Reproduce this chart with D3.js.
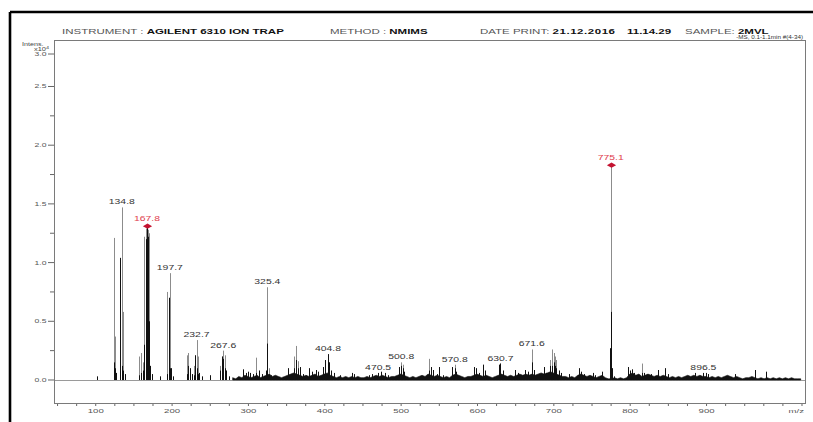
<!DOCTYPE html>
<html>
<head>
<meta charset="utf-8">
<script src="https://cdn.jsdelivr.net/npm/d3@7"></script>
<style>
  html, body { margin: 0; padding: 0; background: #fff; }
  svg { display: block; font-family: "Liberation Sans", Arial, sans-serif; }
  text { white-space: pre; }
</style>
</head>
<body>
<svg id="chart" width="813" height="422"></svg>
<script>
// ---- Mass spectrum, intensities in units of 10^4 counts ----
// Stick positions (m/z)
const peakMz = [
  102.5, 124.0, 125.8, 127.5, 132.2, 134.8, 137.0, 139.5,
  157.6, 159.4, 162.0, 164.5, 166.0, 167.8, 169.2, 170.5, 172.0, 175.0, 185.0,
  194.2, 196.0, 197.7, 199.0, 201.5,
  219.8, 221.8, 224.0, 227.0, 229.0, 231.0, 232.7, 234.2, 236.5, 240.0, 250.5,
  263.5, 265.5, 267.6, 269.5, 271.5, 275.0,
  293.5, 297.0, 300.0, 303.0, 306.0, 310.5, 314.0, 318.0, 323.5, 325.4, 327.0, 330.0,
  353.0, 360.5, 362.8, 365.5, 368.0, 372.0, 376.0, 380.5, 384.0, 389.0, 392.0,
  398.0, 401.5, 404.8, 406.5, 409.0, 413.0, 420.0, 436.5, 439.0,
  458.7, 462.0, 470.5, 474.0, 480.0, 484.0, 498.5, 500.8, 502.5, 505.0,
  537.5, 540.0, 543.0, 547.0, 550.5, 555.0, 567.5, 570.8, 573.0,
  596.0, 598.5, 602.0, 607.6, 611.0, 628.4, 630.7, 634.0,
  650.3, 654.0, 663.3, 667.0, 671.6, 674.5, 680.0, 687.2, 691.0,
  696.0, 698.2, 700.3, 702.0, 703.8, 707.0, 710.0, 720.0,
  733.0, 736.0, 740.0, 752.5, 755.0, 763.3, 773.8, 775.1, 776.4, 779.0,
  798.0, 801.0, 803.0, 806.0, 815.5, 819.0, 823.0, 828.0, 837.3, 846.0, 850.0,
  885.2, 896.5, 900.4, 903.0, 937.5, 963.6, 978.7
];
// Full stick height (light trace)
const peakHigh = [
  0.03, 1.21, 0.37, 0.06, 1.04, 1.47, 0.58, 0.05,
  0.20, 0.23, 0.15, 1.22, 1.29, 1.31, 1.28, 1.25, 0.12, 0.05, 0.03,
  0.75, 0.70, 0.91, 0.10, 0.03,
  0.21, 0.23, 0.10, 0.05, 0.12, 0.21, 0.34, 0.20, 0.06, 0.03, 0.04,
  0.12, 0.20, 0.25, 0.21, 0.08, 0.03,
  0.09, 0.06, 0.07, 0.06, 0.05, 0.19, 0.08, 0.05, 0.08, 0.79, 0.10, 0.04,
  0.10, 0.20, 0.29, 0.16, 0.11, 0.05, 0.04, 0.10, 0.07, 0.085, 0.07,
  0.11, 0.17, 0.22, 0.15, 0.08, 0.06, 0.04, 0.06, 0.05,
  0.04, 0.05, 0.06, 0.07, 0.06, 0.04, 0.11, 0.15, 0.13, 0.07,
  0.18, 0.11, 0.085, 0.05, 0.11, 0.04, 0.11, 0.13, 0.07,
  0.11, 0.10, 0.06, 0.13, 0.08, 0.13, 0.14, 0.08,
  0.085, 0.06, 0.085, 0.07, 0.26, 0.085, 0.05, 0.11, 0.06,
  0.17, 0.26, 0.23, 0.20, 0.17, 0.08, 0.06, 0.05,
  0.10, 0.07, 0.05, 0.06, 0.04, 0.07, 0.27, 1.83, 0.10, 0.03,
  0.11, 0.08, 0.09, 0.06, 0.14, 0.06, 0.05, 0.05, 0.085, 0.10, 0.05,
  0.06, 0.06, 0.06, 0.05, 0.05, 0.085, 0.07
];
// Dark core of each stick
const peakCore = [
  0.03, 0.15, 0.10, 0.06, 1.04, 0.12, 0.08, 0.05,
  0.04, 0.06, 0.08, 0.30, 1.20, 1.31, 1.22, 0.50, 0.12, 0.05, 0.03,
  0.05, 0.70, 0.10, 0.10, 0.03,
  0.05, 0.12, 0.10, 0.05, 0.04, 0.21, 0.10, 0.05, 0.06, 0.03, 0.04,
  0.08, 0.20, 0.18, 0.10, 0.08, 0.03,
  0.09, 0.06, 0.07, 0.06, 0.05, 0.06, 0.08, 0.05, 0.08, 0.31, 0.05, 0.04,
  0.10, 0.10, 0.17, 0.10, 0.11, 0.05, 0.04, 0.10, 0.07, 0.085, 0.07,
  0.11, 0.17, 0.22, 0.15, 0.08, 0.06, 0.04, 0.06, 0.05,
  0.04, 0.05, 0.06, 0.07, 0.06, 0.04, 0.11, 0.12, 0.10, 0.07,
  0.08, 0.11, 0.085, 0.05, 0.11, 0.04, 0.11, 0.10, 0.07,
  0.11, 0.10, 0.06, 0.13, 0.08, 0.13, 0.14, 0.08,
  0.085, 0.06, 0.085, 0.07, 0.15, 0.085, 0.05, 0.11, 0.06,
  0.12, 0.12, 0.15, 0.12, 0.10, 0.08, 0.06, 0.05,
  0.10, 0.07, 0.05, 0.06, 0.04, 0.07, 0.27, 0.58, 0.10, 0.03,
  0.11, 0.08, 0.09, 0.06, 0.06, 0.06, 0.05, 0.05, 0.085, 0.10, 0.05,
  0.06, 0.06, 0.06, 0.05, 0.05, 0.085, 0.07
];

// Chemical noise floor, sampled every 4 m/z from m/z 280
const noiseStart = 280;
const noiseStep = 4;
const noiseLevel = [
  0.02,0.01,0.03,0.02,0.04,0.03,0.02,0.03,0.04,0.02,
  0.03,0.04,0.05,0.03,0.04,0.03,0.02,0.03,0.04,0.05,
  0.06,0.05,0.04,0.03,0.04,0.03,0.04,0.05,0.03,0.04,
  0.05,0.06,0.04,0.03,0.02,0.03,0.02,0.03,0.02,0.03,
  0.02,0.03,0.02,0.02,0.03,0.02,0.03,0.04,0.03,0.04,
  0.03,0.02,0.03,0.03,0.04,0.05,0.04,0.03,0.02,0.03,
  0.02,0.03,0.04,0.03,0.05,0.04,0.03,0.04,0.03,0.02,
  0.03,0.02,0.04,0.05,0.04,0.03,0.02,0.03,0.03,0.04,
  0.05,0.04,0.03,0.04,0.03,0.02,0.03,0.04,0.05,0.04,
  0.03,0.04,0.03,0.04,0.05,0.04,0.05,0.04,0.05,0.04,
  0.05,0.06,0.05,0.06,0.07,0.06,0.05,0.04,0.03,0.03,
  0.02,0.03,0.02,0.04,0.05,0.04,0.03,0.04,0.03,0.02,
  0.03,0.04,0.02,0.01,0.01,0.02,0.01,0.02,0.01,0.02,
  0.05,0.06,0.04,0.05,0.03,0.04,0.05,0.04,0.03,0.04,
  0.03,0.04,0.03,0.02,0.03,0.02,0.03,0.02,0.03,0.04,
  0.03,0.04,0.03,0.04,0.03,0.03,0.02,0.03,0.02,0.03,
  0.02,0.03,0.04,0.03,0.02,0.03,0.02,0.01,0.02,0.02,
  0.03,0.02,0.01,0.02,0.01,0.02,0.01,0.02,0.01,0.02,
  0.01,0.02,0.01,0.02,0.01,0.01,0.01
];

// Annotated peaks (m/z) and the ones flagged with a marker
const labelMz = [134.8, 167.8, 197.7, 232.7, 267.6, 325.4, 404.8, 470.5,
                 500.8, 570.8, 630.7, 671.6, 775.1, 896.5];
const markedMz = [167.8, 775.1];

// Axis ticks
const xTickValues = d3.range(50, 1026, 25);
const yTickValues = [0, 0.25, 0.5, 0.75, 1, 1.25, 1.5, 1.75, 2, 2.25, 2.5, 3.0];

// Report header
const headerFields = [
  { key: "INSTRUMENT : ", val: "AGILENT 6310 ION TRAP" },
  { key: "METHOD : ", val: "NMIMS" },
  { key: "DATE PRINT: ", val: "21.12.2016" },
  { key: "", val: "11.14.29" },
  { key: "SAMPLE: ", val: "2MVL" }
];
const scanInfo = "-MS, 0.1-1.1min #(4-34)";
const xAxisTitle = "m/z";
const yAxisTitle = "Intens.";
const yAxisUnit = "x10";
const yAxisExp = "4";

// ---- layout ----
const svg = d3.select("#chart");
const W = 813, H = 422;
const plot = { left: 54, right: 805, top: 40, bottom: 403 };

svg.append("rect").attr("width", W).attr("height", H).attr("fill", "#fff");

const x = d3.scaleLinear().domain([46.0, 1029.6]).range([plot.left, plot.right]);
const y = d3.scaleLinear().domain([-0.196, 2.896]).range([plot.bottom, plot.top]);

// text drawn with a vertical squeeze like the printed report
function squeezed(parent, px, py, sy) {
  return parent.append("g").attr("transform", `translate(${px},${py}) scale(1,${sy})`).append("text");
}

// page border
svg.append("path").attr("d", "M10,12H813M10,12V422")
  .attr("stroke", "#000").attr("stroke-width", 2.6).attr("fill", "none");

// header line
const headerX = [62, 330, 480, 627, 685];
headerFields.forEach((f, i) => {
  const t = squeezed(svg, headerX[i], 33.5, 0.6)
    .attr("font-size", 11.5);
  if (f.key) t.append("tspan").attr("fill", "#555").text(f.key);
  const v = t.append("tspan").attr("fill", "#111").attr("font-weight", "bold").text(f.val);
  if (i === 2) v.attr("letter-spacing", 0.55);
});
squeezed(svg, 803, 38.5, 0.9).attr("font-size", 6.3).attr("fill", "#333")
  .attr("text-anchor", "end").text(scanInfo);

// zero line
svg.append("line")
  .attr("x1", plot.left).attr("x2", plot.right)
  .attr("y1", Math.round(y(0)) + 0.5).attr("y2", Math.round(y(0)) + 0.5)
  .attr("stroke", "#9a9a9a").attr("stroke-width", 1);

// noise floor
const noisePts = noiseLevel.map((v, i) => [noiseStart + i * noiseStep, v]);
svg.append("path")
  .datum(noisePts)
  .attr("d", d3.area().x(d => x(d[0])).y0(y(0)).y1(d => y(d[1])))
  .attr("fill", "#111").attr("stroke", "#111").attr("stroke-width", 0.6);

const sticks = peakMz.map((m, i) => ({ mz: m, hi: peakHigh[i], core: peakCore[i] }));
const px = d => Math.round(x(d.mz)) + 0.5;

// light trace
svg.append("g").selectAll("line").data(sticks).join("line")
  .attr("x1", px).attr("x2", px)
  .attr("y1", y(0)).attr("y2", d => y(d.hi))
  .attr("stroke", "#8c8c8c").attr("stroke-width", 1);

// dark core
svg.append("g").selectAll("line").data(sticks.filter(d => d.core > 0)).join("line")
  .attr("x1", px).attr("x2", px)
  .attr("y1", y(0)).attr("y2", d => y(d.core))
  .attr("stroke", "#111").attr("stroke-width", 1);

// annotations
const byMz = new Map(sticks.map(d => [d.mz, d]));
const fmt = d3.format(".1f");
labelMz.forEach(m => {
  const s = byMz.get(m);
  const marked = markedMz.includes(m);
  const top = y(s.hi);
  if (marked) {
    svg.append("path")
      .attr("transform", `translate(${px(s)},${top})`)
      .attr("d", "M-4.6,0L0,-2.6L4.6,0L0,2.6Z")
      .attr("fill", "#c41230");
  }
  squeezed(svg, x(m), top - (marked ? 5.5 : 3), 0.65)
    .attr("font-size", 10.4)
    .attr("text-anchor", "middle")
    .attr("fill", marked ? "#e0404e" : "#333")
    .text(fmt(m));
});

// x axis
const xAxis = svg.append("g")
  .attr("transform", `translate(0,${plot.bottom})`)
  .call(d3.axisBottom(x).tickValues(xTickValues).tickSize(3)
    .tickFormat(d => (d % 100 === 0 && d < 1000) ? d : ""));
xAxis.select(".domain").remove();
xAxis.selectAll(".tick line").attr("stroke", "#666");
xAxis.selectAll(".tick text")
  .attr("font-family", "Liberation Sans, Arial, sans-serif")
  .attr("font-size", 9.6).attr("fill", "#555")
  .attr("y", 8.2)
  .attr("transform", "scale(1,0.65)");
squeezed(svg, 804, 412.5, 0.65).attr("font-size", 9.6).attr("fill", "#555")
  .attr("text-anchor", "end").text(xAxisTitle);

// y axis
const yAxis = svg.append("g")
  .attr("transform", `translate(${plot.left},0)`)
  .call(d3.axisLeft(y).tickValues(yTickValues).tickSize(6)
    .tickFormat(d => (Math.round(d * 100) % 50 === 0) ? d.toFixed(1) : ""));
yAxis.select(".domain").remove();
// the top value sits just under the unit caption
yAxis.selectAll(".tick")
  .attr("transform", d => `translate(0,${Math.max(y(d), plot.top + 14)})`);
yAxis.selectAll(".tick line")
  .attr("stroke", "#666")
  .attr("x2", d => (Math.round(d * 100) % 50 === 0) ? -6 : -4);
yAxis.selectAll(".tick text")
  .attr("font-family", "Liberation Sans, Arial, sans-serif")
  .attr("font-size", 8.6).attr("fill", "#555")
  .attr("x", -7.5)
  .attr("transform", "scale(1,0.72)");

// y caption
squeezed(svg, 43.5, 45.5, 0.75).attr("font-size", 7.2).attr("fill", "#444")
  .attr("text-anchor", "end").text(yAxisTitle);
const unit = squeezed(svg, 49, 51, 0.75).attr("font-size", 7.4).attr("fill", "#444")
  .attr("text-anchor", "end");
unit.append("tspan").text(yAxisUnit);
unit.append("tspan").attr("font-size", 5.5).attr("dy", -2.5).text(yAxisExp);

// plot frame
svg.append("rect")
  .attr("x", plot.left + 0.5).attr("y", plot.top + 0.5)
  .attr("width", plot.right - plot.left).attr("height", plot.bottom - plot.top)
  .attr("fill", "none").attr("stroke", "#7a7a7a").attr("stroke-width", 1);
</script>
</body>
</html>
